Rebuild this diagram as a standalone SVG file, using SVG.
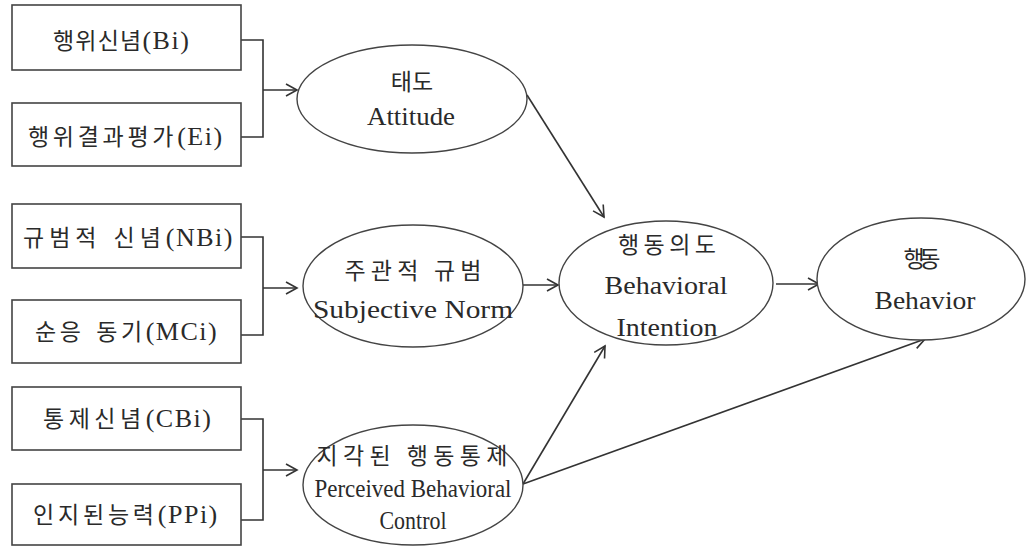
<svg xmlns="http://www.w3.org/2000/svg" width="1029" height="547" viewBox="0 0 1029 547">
<style>
.box{fill:#fff;stroke:#444;stroke-width:1.6}
.ell{fill:#fff;stroke:#444;stroke-width:1.4}
.ko{font-family:"Noto Sans CJK KR","Liberation Serif",serif;font-size:23px;fill:#2a2a2a;text-anchor:middle}
.kl{font-family:"Noto Sans CJK KR","Liberation Serif",serif;font-size:23px;fill:#2a2a2a;text-anchor:start}
.lat{font-family:"Liberation Serif",serif;font-size:26px;letter-spacing:1.5px}
.en{font-family:"Liberation Serif","Noto Sans CJK KR",serif;font-size:25px;fill:#2a2a2a;text-anchor:middle}
.edge{fill:none;stroke:#333;stroke-width:1.6}
</style>
<defs>
<marker id="arr" markerUnits="userSpaceOnUse" markerWidth="14" markerHeight="14" refX="12" refY="7" orient="auto">
<path d="M1,1 L12,7 L1,13" fill="none" stroke="#333" stroke-width="1.6"/>
</marker>
</defs>
<rect width="1029" height="547" fill="#fff"/>
<g id="connectors">
<path class="edge" d="M241,40 H263 V137 H241"/>
<path class="edge" d="M263,90 H297" marker-end="url(#arr)"/>
<path class="edge" d="M241,237 H263 V335 H241"/>
<path class="edge" d="M263,288 H297" marker-end="url(#arr)"/>
<path class="edge" d="M241,419 H263 V520 H241"/>
<path class="edge" d="M263,470 H297" marker-end="url(#arr)"/>
<path class="edge" d="M527,95 L604,217" marker-end="url(#arr)"/>
<path class="edge" d="M523,285 L558,285" marker-end="url(#arr)"/>
<path class="edge" d="M776,284 L819,284" marker-end="url(#arr)"/>
<path class="edge" d="M523,484 L605,346" marker-end="url(#arr)"/>
<path class="edge" d="M523,484 L925,339" marker-end="url(#arr)"/>
</g>
<g id="n-bi"><rect class="box" x="12" y="5" width="229" height="65"/><text class="kl" x="53" y="49"><tspan letter-spacing="1.2">행위신념</tspan><tspan class="lat">(Bi)</tspan></text></g>
<g id="n-ei"><rect class="box" x="12" y="103" width="229" height="63"/><text class="kl" x="28" y="145"><tspan letter-spacing="3.7">행위결과평가</tspan><tspan class="lat">(Ei)</tspan></text></g>
<g id="n-nbi"><rect class="box" x="12" y="204" width="229" height="64"/><text class="kl" x="23" y="246"><tspan letter-spacing="5">규범적</tspan><tspan dx="12" letter-spacing="5">신념</tspan><tspan class="lat">(NBi)</tspan></text></g>
<g id="n-mci"><rect class="box" x="12" y="300" width="229" height="63"/><text class="kl" x="35" y="340"><tspan letter-spacing="3.5">순응</tspan><tspan dx="12" letter-spacing="3.5">동기</tspan><tspan class="lat">(MCi)</tspan></text></g>
<g id="n-cbi"><rect class="box" x="12" y="387" width="229" height="63"/><text class="kl" x="43" y="427"><tspan letter-spacing="4.5">통제신념</tspan><tspan class="lat">(CBi)</tspan></text></g>
<g id="n-ppi"><rect class="box" x="12" y="484" width="229" height="61"/><text class="kl" x="33" y="523"><tspan letter-spacing="3.8">인지된능력</tspan><tspan class="lat">(PPi)</tspan></text></g>
<g id="n-attitude"><ellipse class="ell" cx="412" cy="99" rx="115" ry="54"/><text class="ko" x="412" y="90">태도</text><text class="en" x="411" y="125" textLength="88" lengthAdjust="spacingAndGlyphs">Attitude</text></g>
<g id="n-sn"><ellipse class="ell" cx="413" cy="286" rx="110" ry="61"/><text class="ko" x="413" y="279" textLength="137">주관적 규범</text><text class="en" x="413" y="318" textLength="200" lengthAdjust="spacingAndGlyphs">Subjective Norm</text></g>
<g id="n-pbc"><ellipse class="ell" cx="413" cy="485" rx="110" ry="60"/><text class="ko" x="412" y="464" font-size="22" textLength="191">지각된 행동통제</text><text class="en" x="413" y="497" font-size="21" textLength="197" lengthAdjust="spacingAndGlyphs">Perceived Behavioral</text><text class="en" x="413" y="529" font-size="21" textLength="67" lengthAdjust="spacingAndGlyphs">Control</text></g>
<g id="n-intention"><ellipse class="ell" cx="666" cy="283" rx="107" ry="62"/><text class="ko" x="667" y="253" font-size="22" textLength="98">행동의도</text><text class="en" x="666" y="294" textLength="123" lengthAdjust="spacingAndGlyphs">Behavioral</text><text class="en" x="667" y="336" textLength="101" lengthAdjust="spacingAndGlyphs">Intention</text></g>
<g id="n-behavior"><ellipse class="ell" cx="921" cy="279" rx="104" ry="61"/><text class="ko" x="922" y="267" font-size="19" textLength="37">행동</text><text class="en" x="925" y="309" textLength="101" lengthAdjust="spacingAndGlyphs">Behavior</text></g>
</svg>
